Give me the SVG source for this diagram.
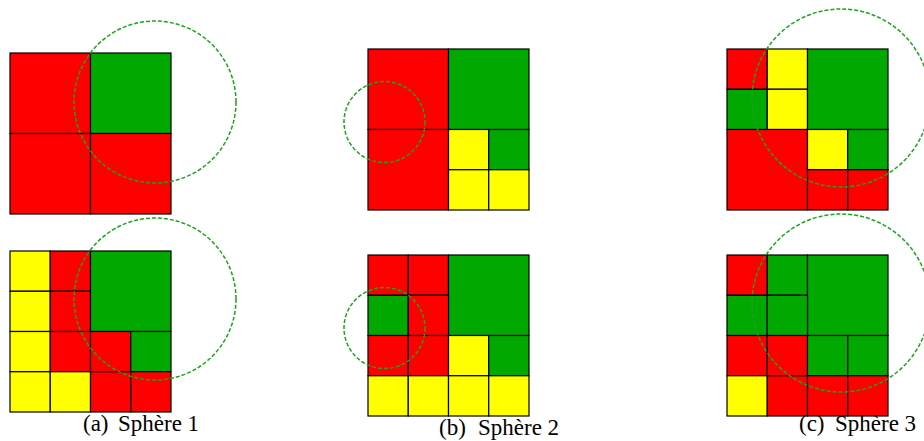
<svg xmlns="http://www.w3.org/2000/svg" width="924" height="441" viewBox="0 0 924 441">
<style>
rect{stroke:#000;stroke-width:1.2}
.r{fill:#ff0000}.g{fill:#00a800}.y{fill:#ffff00}
.s{fill:none;stroke:#1aa51a;stroke-width:1.5;stroke-dasharray:4 2}
text{font-family:"Liberation Serif","Times New Roman",serif;font-size:23px;fill:#000}
</style>
<g id="a-top" transform="translate(10,53)">
<rect class="r" x="0" y="0" width="80.5" height="80.5"/>
<rect class="g" x="80.5" y="0" width="80.5" height="80.5"/>
<rect class="r" x="0" y="80.5" width="80.5" height="80.5"/>
<rect class="r" x="80.5" y="80.5" width="80.5" height="80.5"/>
</g>
<g id="a-bottom" transform="translate(10,251)">
<rect class="y" x="0" y="0" width="40.25" height="40.25"/>
<rect class="y" x="0" y="40.25" width="40.25" height="40.25"/>
<rect class="y" x="0" y="80.5" width="40.25" height="40.25"/>
<rect class="y" x="0" y="120.75" width="40.25" height="40.25"/>
<rect class="r" x="40.25" y="0" width="40.25" height="40.25"/>
<rect class="r" x="40.25" y="40.25" width="40.25" height="40.25"/>
<rect class="r" x="40.25" y="80.5" width="40.25" height="40.25"/>
<rect class="y" x="40.25" y="120.75" width="40.25" height="40.25"/>
<rect class="g" x="80.5" y="0" width="80.5" height="80.5"/>
<rect class="r" x="80.5" y="80.5" width="40.25" height="40.25"/>
<rect class="g" x="120.75" y="80.5" width="40.25" height="40.25"/>
<rect class="r" x="80.5" y="120.75" width="40.25" height="40.25"/>
<rect class="r" x="120.75" y="120.75" width="40.25" height="40.25"/>
</g>
<g id="b-top" transform="translate(368,49)">
<rect class="r" x="0" y="0" width="80.5" height="80.5"/>
<rect class="g" x="80.5" y="0" width="80.5" height="80.5"/>
<rect class="r" x="0" y="80.5" width="80.5" height="80.5"/>
<rect class="y" x="80.5" y="80.5" width="40.25" height="40.25"/>
<rect class="g" x="120.75" y="80.5" width="40.25" height="40.25"/>
<rect class="y" x="80.5" y="120.75" width="40.25" height="40.25"/>
<rect class="y" x="120.75" y="120.75" width="40.25" height="40.25"/>
</g>
<g id="b-bottom" transform="translate(368,255)">
<rect class="r" x="0" y="0" width="40.25" height="40.25"/>
<rect class="r" x="40.25" y="0" width="40.25" height="40.25"/>
<rect class="g" x="80.5" y="0" width="80.5" height="80.5"/>
<rect class="g" x="0" y="40.25" width="40.25" height="40.25"/>
<rect class="r" x="40.25" y="40.25" width="40.25" height="40.25"/>
<rect class="r" x="0" y="80.5" width="40.25" height="40.25"/>
<rect class="r" x="40.25" y="80.5" width="40.25" height="40.25"/>
<rect class="y" x="80.5" y="80.5" width="40.25" height="40.25"/>
<rect class="g" x="120.75" y="80.5" width="40.25" height="40.25"/>
<rect class="y" x="0" y="120.75" width="40.25" height="40.25"/>
<rect class="y" x="40.25" y="120.75" width="40.25" height="40.25"/>
<rect class="y" x="80.5" y="120.75" width="40.25" height="40.25"/>
<rect class="y" x="120.75" y="120.75" width="40.25" height="40.25"/>
</g>
<g id="c-top" transform="translate(727,49)">
<rect class="r" x="0" y="0" width="40.25" height="40.25"/>
<rect class="y" x="40.25" y="0" width="40.25" height="40.25"/>
<rect class="g" x="0" y="40.25" width="40.25" height="40.25"/>
<rect class="y" x="40.25" y="40.25" width="40.25" height="40.25"/>
<rect class="g" x="80.5" y="0" width="80.5" height="80.5"/>
<rect class="r" x="0" y="80.5" width="80.5" height="80.5"/>
<rect class="y" x="80.5" y="80.5" width="40.25" height="40.25"/>
<rect class="g" x="120.75" y="80.5" width="40.25" height="40.25"/>
<rect class="r" x="80.5" y="120.75" width="40.25" height="40.25"/>
<rect class="r" x="120.75" y="120.75" width="40.25" height="40.25"/>
</g>
<g id="c-bottom" transform="translate(727,255)">
<rect class="r" x="0" y="0" width="40.25" height="40.25"/>
<rect class="g" x="40.25" y="0" width="40.25" height="40.25"/>
<rect class="g" x="80.5" y="0" width="80.5" height="80.5"/>
<rect class="g" x="0" y="40.25" width="40.25" height="40.25"/>
<rect class="g" x="40.25" y="40.25" width="40.25" height="40.25"/>
<rect class="r" x="0" y="80.5" width="40.25" height="40.25"/>
<rect class="r" x="40.25" y="80.5" width="40.25" height="40.25"/>
<rect class="g" x="80.5" y="80.5" width="40.25" height="40.25"/>
<rect class="g" x="120.75" y="80.5" width="40.25" height="40.25"/>
<rect class="y" x="0" y="120.75" width="40.25" height="40.25"/>
<rect class="r" x="40.25" y="120.75" width="40.25" height="40.25"/>
<rect class="r" x="80.5" y="120.75" width="40.25" height="40.25"/>
<rect class="r" x="120.75" y="120.75" width="40.25" height="40.25"/>
</g>
<g id="spheres">
<circle class="s" cx="155" cy="102" r="81"/>
<circle class="s" cx="155" cy="299" r="81"/>
<circle class="s" cx="384.5" cy="122" r="40.5"/>
<circle class="s" cx="384.5" cy="328" r="40.5"/>
<circle class="s" cx="841" cy="98" r="89"/>
<circle class="s" cx="841" cy="303" r="89"/>
</g>
<g id="captions">
<text x="83" y="431">(a)</text><text x="118" y="431">Sphère 1</text>
<text x="439" y="435">(b)</text><text x="478" y="435">Sphère 2</text>
<text x="799" y="431">(c)</text><text x="835" y="431">Sphère 3</text>
</g>
</svg>
